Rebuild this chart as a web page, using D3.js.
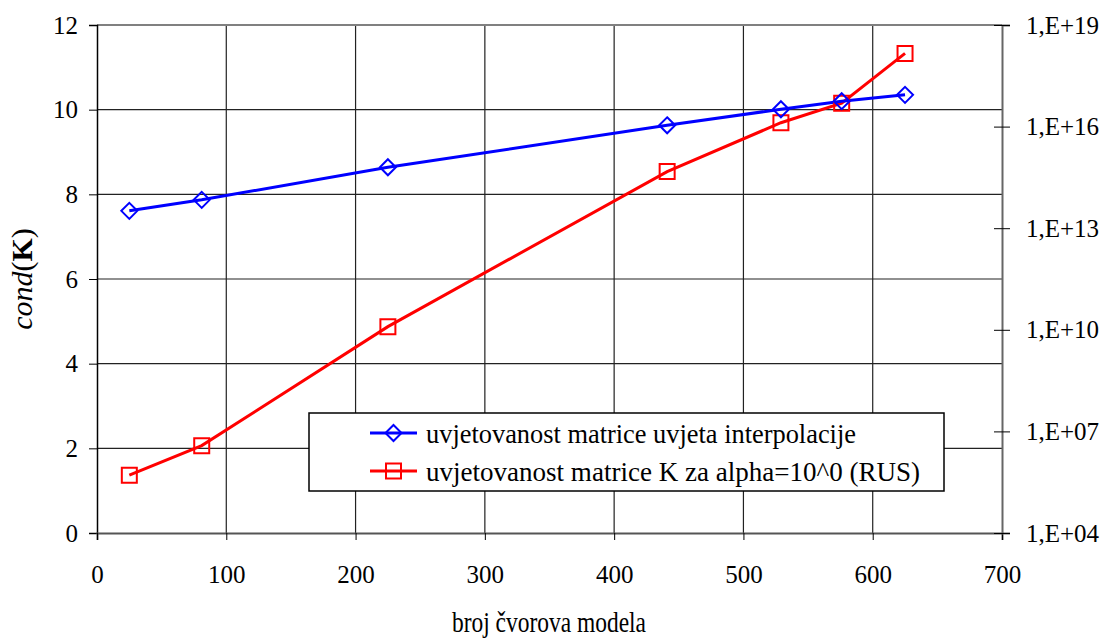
<!DOCTYPE html>
<html><head><meta charset="utf-8">
<script src="https://cdn.jsdelivr.net/npm/d3@7"></script>
<style>body{margin:0;background:#fff}svg{display:block}svg text{font-family:'Liberation Serif','Times New Roman',Tinos,'DejaVu Serif',serif;fill:#000}</style>
</head><body>
<svg id="c" width="1105" height="638"></svg>
<script>
const nodes = [25, 81, 225, 441, 529, 576, 625];
const condInterp = [7.61, 7.87, 8.64, 9.63, 10.01, 10.2, 10.35];
const condK = [5.1e5, 3.8e6, 1.24e10, 4.7e14, 1.3e16, 4.9e16, 1.45e18];
const xTicks = [0, 100, 200, 300, 400, 500, 600, 700];
const yTicks = [0, 2, 4, 6, 8, 10, 12];
const y2Ticks = [1e4, 1e7, 1e10, 1e13, 1e16, 1e19];
const y2Labels = ["1,E+04", "1,E+07", "1,E+10", "1,E+13", "1,E+16", "1,E+19"];
const seriesNames = ["uvjetovanost matrice uvjeta interpolacije", "uvjetovanost matrice K za alpha=10^0 (RUS)"];
const xTitle = "broj čvorova modela";
const FONT = "'Liberation Serif','Times New Roman',Tinos,'DejaVu Serif',serif";

const svg = d3.select("#c").attr("font-family", FONT);
const L = 97, R = 1002, T = 25, B = 533;
const x = d3.scaleLinear().domain([0, 700]).range([L, R]);
const y = d3.scaleLinear().domain([0, 12]).range([B, T]);
const y2 = d3.scaleLog().domain([1e4, 1e19]).range([B, T]);

// grid
svg.append("g").selectAll("line").data(yTicks.filter(d => d > 0 && d < 12)).join("line")
  .attr("x1", L).attr("x2", R).attr("y1", d => y(d)).attr("y2", d => y(d))
  .attr("stroke", "#222").attr("stroke-width", 1.2);
svg.append("g").selectAll("line").data(xTicks.filter(d => d > 0 && d < 700)).join("line")
  .attr("y1", T).attr("y2", B).attr("x1", d => x(d)).attr("x2", d => x(d))
  .attr("stroke", "#222").attr("stroke-width", 1.2);
svg.append("line").attr("x1", L).attr("x2", R).attr("y1", T).attr("y2", T).attr("stroke", "#808080").attr("stroke-width", 2);

// axes
const yAxis = svg.append("g").attr("transform", `translate(${L},0)`)
  .call(d3.axisLeft(y).tickValues(yTicks).tickSize(8).tickPadding(11).tickFormat(d3.format("d")));
yAxis.attr("font-family", FONT);
yAxis.select(".domain").attr("stroke", "#000").attr("stroke-width", 1.5);
yAxis.selectAll("text").attr("font-size", 25);

const xAxis = svg.append("g").attr("transform", `translate(0,${B})`)
  .call(d3.axisBottom(x).tickValues(xTicks).tickSize(7).tickPadding(25).tickFormat(d3.format("d")));
xAxis.attr("font-family", FONT);
xAxis.select(".domain").attr("stroke", "#555").attr("stroke-width", 2);
xAxis.selectAll(".tick text").attr("font-size", 25);

const y2Axis = svg.append("g").attr("transform", `translate(${R},0)`)
  .call(d3.axisRight(y2).tickValues(y2Ticks).tickSize(8).tickPadding(16).tickFormat((d, i) => y2Labels[i]));
y2Axis.attr("font-family", FONT);
y2Axis.select(".domain").attr("stroke", "#666").attr("stroke-width", 2);
y2Axis.selectAll(".tick line").attr("x1", -8);
y2Axis.selectAll("text").attr("font-size", 25);

// axis titles
svg.append("text").attr("x", 549).attr("y", 632)
  .attr("text-anchor", "middle").attr("font-size", 29)
  .attr("textLength", 194).attr("lengthAdjust", "spacingAndGlyphs").text(xTitle);
const yt = svg.append("text").attr("transform", "translate(32,279) rotate(-90)")
  .attr("text-anchor", "middle").attr("font-size", 30);
yt.append("tspan").attr("font-style", "italic").text("cond");
yt.append("tspan").text("(");
yt.append("tspan").attr("font-weight", "bold").text("K");
yt.append("tspan").text(")");

// series
const blue = "#0000ff", red = "#ff0000";
const line1 = d3.line().x((d, i) => x(nodes[i])).y(d => y(d));
const line2 = d3.line().x((d, i) => x(nodes[i])).y(d => y2(d));
svg.append("path").datum(condK).attr("d", line2).attr("fill", "none").attr("stroke", red).attr("stroke-width", 3);
svg.append("path").datum(condInterp).attr("d", line1).attr("fill", "none").attr("stroke", blue).attr("stroke-width", 3);

const diamond = (cx, cy, r) => `M${cx},${cy - r}L${cx + r},${cy}L${cx},${cy + r}L${cx - r},${cy}Z`;
svg.append("g").selectAll("path").data(condK).join("path")
  .attr("d", (d, i) => { const cx = x(nodes[i]), cy = y2(d); return `M${cx - 7.5},${cy - 7.5}h15v15h-15Z`; })
  .attr("fill", "none").attr("stroke", red).attr("stroke-width", 2);
svg.append("g").selectAll("path").data(condInterp).join("path")
  .attr("d", (d, i) => diamond(x(nodes[i]), y(d), 8))
  .attr("fill", "none").attr("stroke", blue).attr("stroke-width", 2);

// legend
const lg = svg.append("g");
lg.append("rect").attr("x", 309).attr("y", 413).attr("width", 635).attr("height", 78)
  .attr("fill", "#fff").attr("stroke", "#000").attr("stroke-width", 1.5);
const rows = [{c: blue, n: seriesNames[0], m: "d", yy: 433, w: 430}, {c: red, n: seriesNames[1], m: "s", yy: 471, w: 494}];
rows.forEach(r => {
  lg.append("line").attr("x1", 370).attr("x2", 417).attr("y1", r.yy).attr("y2", r.yy).attr("stroke", r.c).attr("stroke-width", 3);
  lg.append("path").attr("d", r.m === "d" ? diamond(393.5, r.yy, 8) : `M386,${r.yy - 7.5}h15v15h-15Z`)
    .attr("fill", "none").attr("stroke", r.c).attr("stroke-width", 2);
  lg.append("text").attr("x", 426).attr("y", r.yy + 10).attr("font-size", 27)
    .attr("textLength", r.w).attr("lengthAdjust", "spacingAndGlyphs").text(r.n);
});
</script>
</body></html>
